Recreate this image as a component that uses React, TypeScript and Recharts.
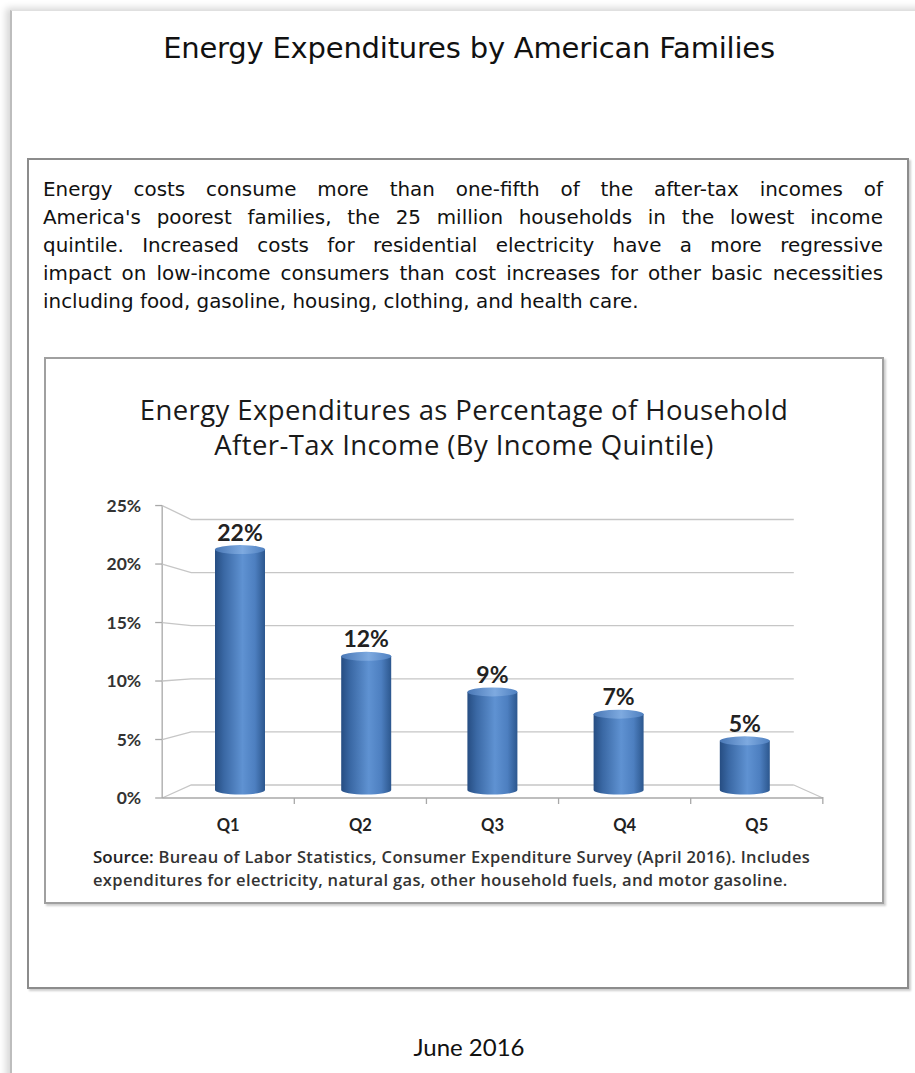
import { BarChart, Bar, XAxis, YAxis, CartesianGrid, LabelList } from 'recharts'

// ── Data ─────────────────────────────────────────────────────────────────────

const quintiles = ['Q1', 'Q2', 'Q3', 'Q4', 'Q5']
const energySharePct = [21.8, 12.2, 9.0, 7.0, 4.6]
const yTicks = [0, 5, 10, 15, 20, 25]

const pageTitle = 'Energy Expenditures by American Families'
const chartTitleLines = [
  'Energy Expenditures as Percentage of Household',
  'After-Tax Income (By Income Quintile)',
]
const paragraphLines = [
  'Energy costs consume more than one-fifth of the after-tax incomes of',
  "America's poorest families, the 25 million households in the lowest income",
  'quintile. Increased costs for residential electricity have a more regressive',
  'impact on low-income consumers than cost increases for other basic necessities',
  'including food, gasoline, housing, clothing, and health care.',
]
const sourceLabel = 'Source:'
const sourceLines = [
  ' Bureau of Labor Statistics, Consumer Expenditure Survey (April 2016). Includes',
  'expenditures for electricity, natural gas, other household fuels, and motor gasoline.',
]
const dateLine = 'June 2016'

const chartData = quintiles.map((q, i) => ({ quintile: q, share: energySharePct[i] }))

// ── Geometry of the faux-3D frame ───────────────────────────────────────────

const CHART_W = 838
const CHART_H = 360
const MARGIN = { top: 34, right: 75, bottom: 18, left: 72 }
const Y_AXIS_W = 60
const X_AXIS_H = 30
const PLOT_LEFT = MARGIN.left + Y_AXIS_W
const PLOT_RIGHT = CHART_W - MARGIN.right
const PLOT_TOP = MARGIN.top
const PLOT_BOTTOM = CHART_H - MARGIN.bottom - X_AXIS_H
const PLOT_CX = (PLOT_LEFT + PLOT_RIGHT) / 2
const BAND = (PLOT_RIGHT - PLOT_LEFT) / quintiles.length

const toFrontY = (y: number) => PLOT_BOTTOM + 6 + (y - PLOT_BOTTOM) * 1.052
const toBackY = (y: number) => PLOT_BOTTOM - 7 + (y - PLOT_BOTTOM) * 0.955
const toFrontX = (x: number) => PLOT_CX + (x - PLOT_CX) * 1.047
const toBackX = (x: number) => PLOT_CX + (x - PLOT_CX) * 0.955

const GRID = '#c6c6c6'
const AXIS = '#a8a8a8'
const CALIBRI = 'Lato, "Open Sans", sans-serif'
const CALIBRI_WIDE = '"Open Sans", Lato, sans-serif'
const TAHOMA = '"DejaVu Sans", sans-serif'

// eslint-disable-next-line @typescript-eslint/no-explicit-any
const renderGridLine = (props: any) => {
  const { x1, x2, y1, key } = props
  const fy = toFrontY(y1)
  const by = toBackY(y1)
  const fx = toFrontX(x1)
  const isFloor = Math.abs(y1 - PLOT_BOTTOM) < 0.5
  return (
    <g key={key}>
      <path
        d={`M${fx},${fy} L${toBackX(x1)},${by} L${toBackX(x2)},${by}`}
        fill="none"
        stroke={GRID}
        strokeWidth={1.3}
      />
      {isFloor && (
        <g>
          <path d={`M${toBackX(x2)},${by} L${toFrontX(x2)},${fy}`} stroke={GRID} strokeWidth={1.3} />
          <path d={`M${fx},${fy} L${toFrontX(x2)},${fy}`} stroke={AXIS} strokeWidth={1.3} />
          <path d={`M${fx},${fy} L${fx},${toFrontY(PLOT_TOP)}`} stroke={AXIS} strokeWidth={1.3} />
        </g>
      )}
    </g>
  )
}

// eslint-disable-next-line @typescript-eslint/no-explicit-any
const YTick = ({ y, payload }: any) => {
  const fy = toFrontY(y)
  const fx = toFrontX(PLOT_LEFT)
  return (
    <g>
      <line x1={fx - 7} x2={fx} y1={fy} y2={fy} stroke={AXIS} strokeWidth={1.3} />
      <text
        x={fx - 21}
        y={fy + 6}
        textAnchor="end"
        fill="#333"
        style={{ fontFamily: CALIBRI, fontSize: 17.5, fontWeight: 700 }}
      >
        {`${payload.value}%`}
      </text>
    </g>
  )
}

// eslint-disable-next-line @typescript-eslint/no-explicit-any
const XTick = ({ x, payload, index }: any) => {
  const fy = toFrontY(PLOT_BOTTOM)
  const left = toFrontX(x - BAND / 2)
  const right = toFrontX(x + BAND / 2)
  return (
    <g>
      {index > 0 && <line x1={left} x2={left} y1={fy} y2={fy + 6} stroke={AXIS} strokeWidth={1.3} />}
      {index === quintiles.length - 1 && (
        <line x1={right} x2={right} y1={fy - 1} y2={fy + 6} stroke={AXIS} strokeWidth={1.3} />
      )}
      <text
        x={toFrontX(x)}
        y={fy + 33}
        textAnchor="middle"
        fill="#222"
        style={{ fontFamily: CALIBRI, fontSize: 16.5, fontWeight: 700 }}
      >
        {payload.value}
      </text>
    </g>
  )
}

// eslint-disable-next-line @typescript-eslint/no-explicit-any
const CylinderBar = ({ x, y, width, height }: any) => {
  if (!height || height <= 0) return null
  const rx = width / 2
  const ry = 4.5
  const bottom = y + height
  return (
    <g>
      <path
        d={`M${x},${y} L${x},${bottom - 2} A${rx},${ry} 0 0 0 ${x + width},${bottom - 2} L${x + width},${y} Z`}
        fill="url(#cylBody)"
      />
      <ellipse cx={x + rx} cy={y} rx={rx} ry={ry} fill="url(#cylTop)" />
    </g>
  )
}

// ── Page ─────────────────────────────────────────────────────────────────────

export default function App() {
  return (
    <div
      style={{
        position: 'absolute', left: 0, top: 0, width: 915, height: 1073,
        overflow: 'hidden', background: '#fff', color: '#111',
      }}
    >
      {/* card edge */}
      <div
        style={{
          position: 'absolute', left: 10, top: 10, width: 960, height: 1120,
          borderLeft: '2px solid #bdbdbd', borderTop: '1px solid #e0e0e0',
          boxShadow: '-4px -2px 7px rgba(0,0,0,0.16)', background: '#fff',
        }}
      />

      <div
        style={{
          position: 'absolute', left: 0, width: 938, top: 31, textAlign: 'center',
          fontFamily: TAHOMA, fontSize: 29, letterSpacing: -0.2,
        }}
      >
        {pageTitle}
      </div>

      {/* outer text box */}
      <div
        style={{
          position: 'absolute', left: 27, top: 158, width: 878, height: 827,
          border: '2px solid #8c8c8c', boxShadow: '2px 2px 2px rgba(0,0,0,0.2)',
        }}
      />

      <div style={{ position: 'absolute', left: 43, top: 176, width: 840, fontFamily: TAHOMA, fontSize: 19.9 }}>
        {paragraphLines.map((line, i) => (
          <div
            key={i}
            style={{
              height: 28, lineHeight: '28px', whiteSpace: 'nowrap',
              textAlign: 'justify', textAlignLast: i < paragraphLines.length - 1 ? 'justify' : 'left',
            }}
          >
            {line}
          </div>
        ))}
      </div>

      {/* inner chart box */}
      <div
        style={{
          position: 'absolute', left: 44, top: 357, width: 836, height: 543,
          border: '2px solid #a0a0a0', boxShadow: '2px 2px 2px rgba(0,0,0,0.2)',
        }}
      />

      <div
        style={{
          position: 'absolute', left: 44, width: 840, top: 392, textAlign: 'center',
          fontFamily: CALIBRI_WIDE, fontSize: 27.5, letterSpacing: 0.4, lineHeight: '35px', color: '#1a1a1a',
        }}
      >
        {chartTitleLines.map((t) => <div key={t}>{t}</div>)}
      </div>

      <div style={{ position: 'absolute', left: 45, top: 480 }}>
        <BarChart width={CHART_W} height={CHART_H} data={chartData} margin={MARGIN}>
          <defs>
            <linearGradient id="cylBody" x1="0" y1="0" x2="1" y2="0">
              <stop offset="0%" stopColor="#264d82" />
              <stop offset="18%" stopColor="#3a68a4" />
              <stop offset="55%" stopColor="#5f92d2" />
              <stop offset="80%" stopColor="#4d7fc0" />
              <stop offset="100%" stopColor="#2c578e" />
            </linearGradient>
            <linearGradient id="cylTop" x1="0" y1="0" x2="1" y2="0">
              <stop offset="0%" stopColor="#4a78b6" />
              <stop offset="55%" stopColor="#7eaae0" />
              <stop offset="100%" stopColor="#4f80c0" />
            </linearGradient>
          </defs>
          <CartesianGrid vertical={false} horizontal={renderGridLine} />
          <XAxis
            dataKey="quintile"
            height={X_AXIS_H}
            axisLine={false}
            tickLine={false}
            interval={0}
            tick={<XTick />}
          />
          <YAxis
            width={Y_AXIS_W}
            domain={[0, 25]}
            ticks={yTicks}
            axisLine={false}
            tickLine={false}
            tick={<YTick />}
          />
          <Bar dataKey="share" barSize={50} shape={<CylinderBar />} isAnimationActive={false}>
            <LabelList
              dataKey="share"
              position="top"
              offset={9}
              formatter={(v: number) => `${Math.round(v)}%`}
              style={{ fontFamily: CALIBRI, fontSize: 23, fontWeight: 700, fill: '#222' }}
            />
          </Bar>
        </BarChart>
      </div>

      <div
        style={{
          position: 'absolute', left: 93, top: 845, fontFamily: CALIBRI_WIDE, fontSize: 16.5,
          letterSpacing: 0.35, fontWeight: 600, color: '#333', lineHeight: '23px', whiteSpace: 'nowrap',
        }}
      >
        <div>
          <span style={{ fontSize: 17, letterSpacing: 0, color: '#222' }}>{sourceLabel}</span>
          {sourceLines[0]}
        </div>
        <div>{sourceLines[1]}</div>
      </div>

      <div
        style={{
          position: 'absolute', left: 0, width: 938, top: 1032, textAlign: 'center',
          fontFamily: CALIBRI, fontSize: 24,
        }}
      >
        {dateLine}
      </div>
    </div>
  )
}
